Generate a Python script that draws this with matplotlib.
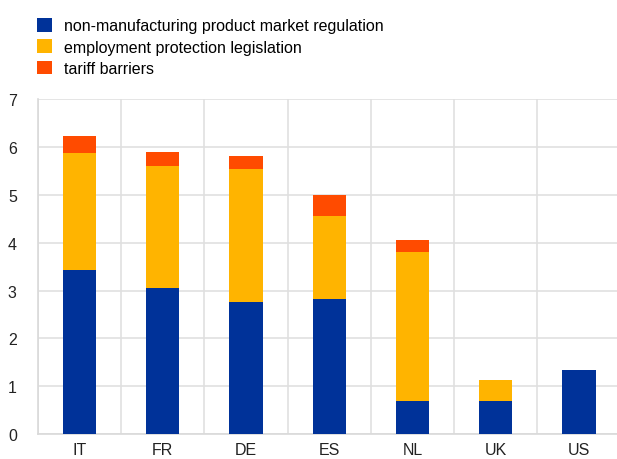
import matplotlib
matplotlib.use("Agg")
import matplotlib.pyplot as plt
import numpy as np

countries = ["IT", "FR", "DE", "ES", "NL", "UK", "US"]
pmr = [3.43, 3.05, 2.77, 2.82, 0.69, 0.69, 1.34]
epl = [2.44, 2.56, 2.77, 1.74, 3.12, 0.44, 0.0]
tariff = [0.36, 0.29, 0.28, 0.44, 0.24, 0.0, 0.0]
labels = ["non-manufacturing product market regulation",
          "employment protection legislation",
          "tariff barriers"]
colors = ["#003299", "#FFB400", "#FF4B00"]

plt.rcParams["font.family"] = ["Liberation Sans", "DejaVu Sans"]

fig = plt.figure(figsize=(6.17, 4.60), dpi=100)
ax = fig.add_axes([0.061, 0.0543, 0.945, 0.728])

x = np.arange(len(countries))
bottom = np.zeros(len(countries))
for vals, lab, col in zip([pmr, epl, tariff], labels, colors):
    ax.bar(x, vals, width=0.4, bottom=bottom, color=col, label=lab, zorder=3)
    bottom += np.array(vals)

ax.set_xlim(-0.5, len(countries) - 0.5)
ax.set_ylim(0, 7)
ax.set_yticks(range(0, 8))
ax.set_xticks(x)
ax.set_xticklabels(countries)
ax.set_xticks(np.arange(-0.5, len(countries), 1.0), minor=True)
ax.grid(axis="y", which="major", color="#e0e0e0", lw=1.2, zorder=0)
ax.grid(axis="x", which="minor", color="#e0e0e0", lw=1.2, zorder=0)
ax.tick_params(which="both", length=0, labelsize=11.5, colors="#222222")
ax.tick_params(axis="y", pad=15)
ax.tick_params(axis="x", pad=6)
for s in ["top", "right"]:
    ax.spines[s].set_visible(False)
for s in ["left", "bottom"]:
    ax.spines[s].set_color("#d9d9d9")
    ax.spines[s].set_linewidth(1.2)

fig.legend(loc="upper left", bbox_to_anchor=(0.05, 0.972), frameon=False,
           fontsize=11.5, handlelength=0.9, handleheight=0.9, handletextpad=0.8,
           labelspacing=0.38, borderaxespad=0)

fig.savefig("out.png", dpi=100, facecolor="white")
